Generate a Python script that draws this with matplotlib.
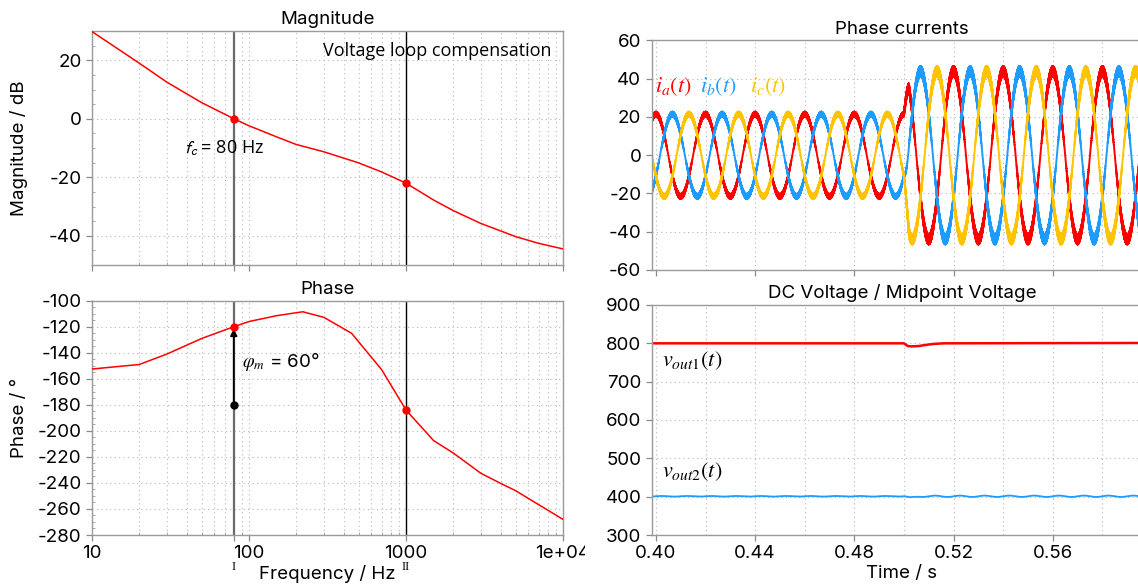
import numpy as np
import matplotlib
matplotlib.use('Agg')
import matplotlib.pyplot as plt
from matplotlib.ticker import MultipleLocator, LogLocator, NullFormatter
from matplotlib.transforms import Bbox, TransformedBbox

plt.rcParams['font.family'] = ['Inter', 'DejaVu Sans']
plt.rcParams['font.size'] = 13.5
plt.rcParams['axes.unicode_minus'] = False

# ---- Bode plot of the voltage loop ----
freq_mag = [10, 20, 30, 50, 80, 100, 150, 200, 300, 500, 700, 1000,
            1500, 2000, 3000, 5000, 7000, 10000]
mag_db = [29.8, 19.0, 12.5, 5.5, 0.0, -2.4, -6.2, -8.8, -11.3, -15.1, -18.2,
          -22.0, -27.8, -31.4, -35.8, -40.3, -42.6, -44.5]

freq_ph = [10, 20, 30, 50, 80, 100, 150, 220, 300, 450, 700, 1000,
           1500, 2000, 3000, 4000, 5000, 7000, 10000]
phase_deg = [-152.5, -149.0, -141.0, -129.0, -120.0, -116.0, -111.5, -108.5,
             -112.8, -125.0, -153.0, -184.0, -207.5, -217.0, -232.6, -240.3,
             -246.0, -256.7, -268.0]

f_cross = 80          # crossover frequency, Hz
f_second = 1000       # second marker, Hz
mag_marks = [0.0, -22.0]
phase_marks = [-120.0, -184.0]
phase_ref = -180.0

# ---- inverter waveforms ----
t_start, t_end = 0.3983, 0.60
time_ticks = [0.40, 0.44, 0.48, 0.52, 0.56]
f_grid = 50.0          # Hz
t_step = 0.5           # load step
amp_before = 21.5      # A
amp_after = 44.0       # A
ramp_time = 0.002      # s, amplitude rise after the step
ripple_frac = 0.075    # switching ripple relative to the instantaneous current
f_sw = 10000.0

# DC link voltage (red) corner points
t_dc = [0.3983, 0.500, 0.5015, 0.503, 0.506, 0.509, 0.512, 0.516, 0.60]
v_dc = [800.0, 800.0, 793.0, 792.0, 793.0, 796.0, 798.5, 800.0, 801.0]
# midpoint voltage (blue)
v_mid = 401.0
mid_ripple_before = 0.8
mid_ripple_after = 1.8
f_mid_ripple = 100.0
t_mid_dip = [0.3983, 0.500, 0.5025, 0.506, 0.60]
v_mid_dip = [0.0, 0.0, -4.5, 0.0, 0.0]

RED = '#ff0000'
BLUE = '#1e9bff'
GOLD = '#ffc300'

W, H = 1138.0, 588.0
fig = plt.figure(figsize=(W / 100, H / 100), dpi=100)


def place(l, t, r, b):
    return fig.add_axes([l / W, 1 - b / H, (r - l) / W, (b - t) / H])


def style(ax):
    for s in ax.spines.values():
        s.set_color('#9a9a9a')
        s.set_linewidth(1.0)
    ax.tick_params(which='major', direction='out', length=4.5, width=0.9,
                   color='#8a8a8a', pad=3, labelsize=13.5)
    ax.tick_params(which='minor', direction='in', length=2, width=0.6,
                   color='#9a9a9a')
    ax.xaxis.grid(True, which='both', color='#b8b8b8',
                  linestyle=(0, (1, 3)), linewidth=0.8)
    ax.yaxis.grid(True, which='major', color='#b8b8b8',
                  linestyle=(0, (1, 3)), linewidth=0.8)
    ax.set_axisbelow(True)


ax_mag = place(92, 31, 563, 265)
ax_ph = place(92, 300.7, 563, 535)
ax_i = place(651.7, 40.5, 1152, 270)
ax_v = place(651.7, 305, 1152, 535)

for ax in (ax_mag, ax_ph, ax_i, ax_v):
    style(ax)

# ---- magnitude ----
for ax in (ax_mag, ax_ph):
    ax.set_xscale('log')
    ax.set_xlim(10, 1e4)
    ax.set_xticks([10, 80, 100, 1000, 10000],
                  labels=['10', '', '100', '1000', '1e+04'])
    ax.xaxis.set_minor_locator(LogLocator(base=10, subs=np.arange(2, 10)))
    ax.xaxis.set_minor_formatter(NullFormatter())
    ax.axvline(f_cross, color='#6a6a6a', lw=1.6, zorder=2)
    ax.axvline(f_second, color='black', lw=1.0, zorder=2)

ax_mag.plot(freq_mag, mag_db, color=RED, lw=1.1, zorder=3)
ax_mag.plot([f_cross, f_second], mag_marks, 'o', color=RED, ms=5, zorder=4)
ax_mag.set_ylim(-50, 30)
ax_mag.set_yticks([-40, -20, 0, 20])
ax_mag.yaxis.set_minor_locator(MultipleLocator(5))
ax_mag.tick_params(axis='x', labelbottom=False)
ax_mag.set_title('Magnitude', fontsize=13.5, pad=5)
ax_mag.set_ylabel('Magnitude / dB', fontsize=13.5, va='center')
ax_mag.yaxis.set_label_coords((19 - 92) / 471, 0.5)
ax_mag.text(8400, 23.2, 'Voltage loop compensation', ha='right', va='center',
            fontsize=13, family=['Open Sans', 'DejaVu Sans'])
ax_mag.text(38.8, -10, r'$f_c$ = 80 Hz', ha='left', va='center', fontsize=13,
            family=['Open Sans', 'DejaVu Sans'], math_fontfamily='stixsans')

# ---- phase ----
ax_ph.plot(freq_ph, phase_deg, color=RED, lw=1.1, zorder=3)
ax_ph.annotate('', xy=(f_cross, phase_marks[0] - 1.5), xytext=(f_cross, phase_ref),
               arrowprops=dict(arrowstyle='-|>', color='black', lw=1.3,
                               mutation_scale=10, shrinkA=0, shrinkB=0), zorder=4)
ax_ph.plot([f_cross], [phase_ref], 'o', color='black', ms=5, zorder=5)
ax_ph.plot([f_cross, f_second], phase_marks, 'o', color=RED, ms=5, zorder=5)
ax_ph.set_ylim(-280, -100)
ax_ph.set_yticks(np.arange(-280, -99, 20))
ax_ph.yaxis.set_minor_locator(MultipleLocator(5))
ax_ph.set_title('Phase', fontsize=13.5, pad=5)
ax_ph.set_ylabel('Phase / °', fontsize=13.5, va='center')
ax_ph.yaxis.set_label_coords((19 - 92) / 471, 0.5)
ax_ph.set_xlabel('Frequency / Hz', fontsize=13.5, labelpad=2)
ax_ph.text(90, -147, r'$\varphi_m$ = 60°', ha='left', va='center', fontsize=13.5,
           math_fontfamily='stix')
for f, tag in ((f_cross, 'I'), (f_second, 'II')):
    ax_ph.annotate(tag, xy=(f, 0), xycoords=('data', 'axes fraction'),
                   xytext=(0, -32), textcoords='offset pixels', ha='center',
                   va='center', fontsize=9, family='Liberation Serif')

# the last frequency label runs into the gap between the panels
clip = TransformedBbox(Bbox([[0, 0], [585 / W, 1]]), fig.transFigure)
last = ax_ph.xaxis.get_major_ticks()[4].label1
last.set_clip_box(clip)
last.set_clip_on(True)

# ---- phase currents ----
t = np.arange(t_start, t_end, 1e-5)
ramp = np.clip((t - t_step) / ramp_time, 0, 1)
amp = amp_before + (amp_after - amp_before) * ramp
carrier = 2 / np.pi * np.arcsin(np.sin(2 * np.pi * f_sw * t))
w = 2 * np.pi * f_grid
for shift, col in ((0.0, RED), (-2 * np.pi / 3, BLUE), (2 * np.pi / 3, GOLD)):
    base = amp * np.cos(w * t + shift)
    ax_i.plot(t, base + ripple_frac * np.abs(base) * carrier, color=col, lw=1.4)

ax_i.set_xlim(t_start, t_end)
ax_i.set_ylim(-60, 60)
ax_i.set_yticks(np.arange(-60, 61, 20))
ax_i.set_xticks(time_ticks)
ax_i.xaxis.set_minor_locator(MultipleLocator(0.02))
ax_i.tick_params(axis='x', labelbottom=False)
ax_i.tick_params(axis='x', which='minor', length=0)
ax_i.set_title('Phase currents', fontsize=13.5, pad=5)
for x0, lab, col in ((0.3996, r'$i_a(t)$', RED), (0.4177, r'$i_b(t)$', BLUE),
                     (0.4379, r'$i_c(t)$', GOLD)):
    ax_i.text(x0, 36, lab, color=col, fontsize=16, ha='left', va='center',
              math_fontfamily='stix')

# ---- DC link / midpoint voltage ----
ax_v.plot(t_dc, v_dc, color=RED, lw=1.8)
rip = np.where(t < t_step, mid_ripple_before, mid_ripple_after)
v2 = v_mid + rip * np.sin(2 * np.pi * f_mid_ripple * t) + np.interp(t, t_mid_dip, v_mid_dip)
ax_v.plot(t, v2, color=BLUE, lw=1.3)
ax_v.set_xlim(t_start, t_end)
ax_v.set_ylim(300, 900)
ax_v.set_yticks(np.arange(300, 901, 100))
ax_v.set_xticks(time_ticks, labels=['%.2f' % v for v in time_ticks])
ax_v.xaxis.set_minor_locator(MultipleLocator(0.02))
ax_v.tick_params(axis='x', which='minor', length=0)
ax_v.set_title('DC Voltage / Midpoint Voltage', fontsize=13.5, pad=5)
ax_v.set_xlabel('Time / s', fontsize=13.5, labelpad=2)
ax_v.text(0.4025, 755, r'$v_{out1}(t)$', fontsize=16, ha='left', va='center',
          math_fontfamily='stix')
ax_v.text(0.4025, 464, r'$v_{out2}(t)$', fontsize=16, ha='left', va='center',
          math_fontfamily='stix')

fig.savefig('out.png', dpi=100)
